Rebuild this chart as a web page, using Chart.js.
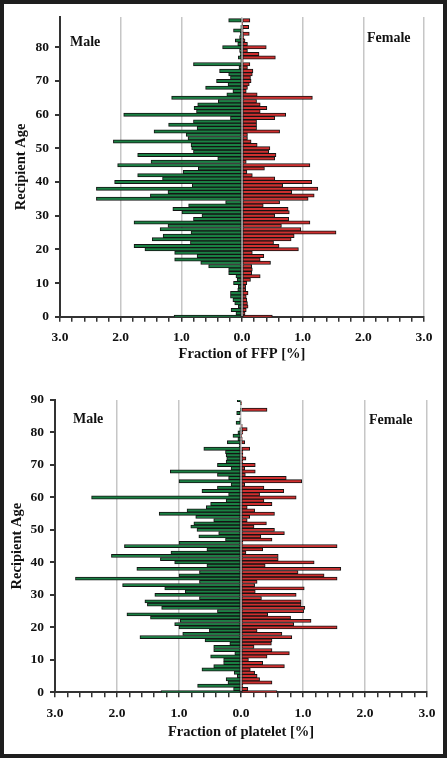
<!DOCTYPE html>
<html lang="en">
<head>
  <meta charset="UTF-8" />
  <title>Recipient age vs fraction of FFP / platelet</title>
  <script src="https://cdn.jsdelivr.net/npm/chart.js@4.4.0"></script>
  <style>
    * { box-sizing: border-box; margin: 0; padding: 0; }
    body {
      width: 447px;
      height: 758px;
      position: relative;
      overflow: hidden;
      background: #fff;
      font-family: 'Liberation Serif', 'DejaVu Serif', serif;
    }
    .frame {
      position: absolute;
      inset: 0;
      border: 4px solid #1e1e1e;
      pointer-events: none;
      z-index: 5;
    }
    .chart-box { position: absolute; left: 0; width: 447px; }
    #box1 { top: 0; height: 370px; }
    #box2 { top: 370px; height: 388px; }
    .sex {
      position: absolute;
      font-weight: bold;
      font-size: 14px;
      line-height: 16px;
      color: #111;
    }
  </style>
</head>
<body>
  <div class="chart-box" id="box1"><canvas id="ffpChart"></canvas></div>
  <div class="chart-box" id="box2"><canvas id="pltChart"></canvas></div>

  <div class="sex" style="left:70px; top:34px;">Male</div>
  <div class="sex" style="left:367px; top:30px;">Female</div>
  <div class="sex" style="left:73px; top:411px;">Male</div>
  <div class="sex" style="left:369px; top:412px;">Female</div>

  <div class="frame"></div>

  <script>
    // ages 0..89 (FFP) and 0..90 (platelet)
    const agesFFP = Array.from({ length: 90 }, (_, i) => i);
    const agesPLT = Array.from({ length: 91 }, (_, i) => i);

    // fraction of FFP [%], index = age
    const maleFFP = [
      1.12, 0.10, 0.18, 0.06, 0.12, 0.15, 0.19, 0.19, 0.07, 0.06,
      0.14, 0.08, 0.10, 0.22, 0.22, 0.55, 0.68, 1.11, 0.74, 1.11,
      1.60, 1.78, 0.85, 1.48, 1.30, 0.84, 1.35, 1.22, 1.78, 0.80,
      0.66, 0.99, 1.14, 0.88, 0.27, 2.40, 1.51, 1.22, 2.40, 0.82,
      2.10, 1.31, 1.72, 0.97, 0.72, 2.05, 1.50, 0.40, 1.72, 0.80,
      0.83, 0.84, 2.12, 0.89, 0.92, 1.45, 0.74, 1.21, 0.80, 0.19,
      1.95, 0.75, 0.79, 0.73, 0.39, 1.16, 0.25, 0.15, 0.60, 0.23,
      0.42, 0.19, 0.22, 0.37, 0.05, 0.80, 0.02, 0.06, 0.03, 0.04,
      0.32, 0.07, 0.11, 0.04, 0.03, 0.14, 0.02, 0.00, 0.22, 0.00
    ];
    const femaleFFP = [
      0.50, 0.05, 0.07, 0.10, 0.09, 0.08, 0.07, 0.10, 0.06, 0.06,
      0.08, 0.14, 0.30, 0.16, 0.17, 0.16, 0.47, 0.30, 0.36, 0.17,
      0.93, 0.61, 0.52, 0.81, 0.86, 1.55, 0.97, 0.65, 1.12, 0.77,
      0.54, 0.78, 0.76, 0.35, 0.62, 1.09, 1.19, 0.82, 1.25, 0.67,
      1.15, 0.54, 0.17, 0.08, 0.37, 1.12, 0.07, 0.54, 0.56, 0.44,
      0.46, 0.25, 0.15, 0.09, 0.09, 0.62, 0.24, 0.24, 0.24, 0.54,
      0.72, 0.30, 0.41, 0.30, 0.24, 1.16, 0.25, 0.07, 0.09, 0.12,
      0.15, 0.14, 0.17, 0.18, 0.09, 0.13, 0.02, 0.55, 0.28, 0.09,
      0.40, 0.09, 0.05, 0.03, 0.12, 0.02, 0.11, 0.01, 0.13, 0.00
    ];

    // fraction of platelet [%], index = age
    const malePLT = [
      1.29, 0.12, 0.70, 0.21, 0.24, 0.06, 0.11, 0.63, 0.44, 0.28,
      0.28, 0.49, 0.10, 0.44, 0.44, 0.18, 0.58, 1.63, 0.94, 0.51,
      1.00, 1.07, 0.98, 1.46, 1.84, 0.38, 1.28, 1.51, 1.55, 0.67,
      1.39, 0.90, 1.23, 1.91, 0.67, 2.67, 1.00, 0.67, 1.68, 0.55,
      1.07, 1.30, 2.09, 1.13, 0.55, 1.88, 1.00, 0.25, 0.68, 0.36,
      0.71, 0.81, 0.76, 0.44, 0.73, 1.32, 0.87, 0.56, 0.49, 0.24,
      2.41, 0.20, 0.63, 0.38, 0.16, 1.00, 0.20, 0.38, 1.14, 0.16,
      0.38, 0.24, 0.23, 0.24, 0.25, 0.60, 0.03, 0.22, 0.05, 0.13,
      0.05, 0.02, 0.00, 0.08, 0.02, 0.00, 0.07, 0.01, 0.00, 0.01,
      0.06
    ];
    const femalePLT = [
      0.58, 0.11, 0.03, 0.50, 0.30, 0.26, 0.22, 0.15, 0.70, 0.35,
      0.12, 0.42, 0.78, 0.50, 0.21, 0.49, 0.50, 0.82, 0.66, 0.26,
      1.55, 0.85, 1.13, 0.80, 0.43, 1.01, 1.03, 0.97, 0.97, 0.33,
      0.89, 0.23, 1.02, 0.22, 0.26, 1.55, 1.34, 0.92, 1.61, 0.39,
      1.18, 0.60, 0.60, 0.08, 0.35, 1.55, 0.03, 0.50, 0.32, 0.70,
      0.54, 0.21, 0.41, 0.10, 0.14, 0.54, 0.22, 0.10, 0.50, 0.37,
      0.89, 0.30, 0.69, 0.37, 0.06, 0.98, 0.73, 0.07, 0.23, 0.06,
      0.23, 0.03, 0.08, 0.03, 0.03, 0.14, 0.00, 0.06, 0.02, 0.01,
      0.03, 0.10, 0.02, 0.00, 0.00, 0.00, 0.00, 0.42, 0.00, 0.01,
      0.00
    ];

    Chart.defaults.font.family = "'Liberation Serif', 'DejaVu Serif', serif";
    Chart.defaults.font.weight = 'bold';
    Chart.defaults.color = '#111';

    const GREEN = '#1a8043';
    const RED = '#cf2f2f';
    const EDGE = '#141414';
    const isInt = v => Math.abs(v - Math.round(v)) < 1e-6;

    function buildPyramid(id, ages, male, female, xTitle, g) {
      return new Chart(document.getElementById(id), {
        type: 'bar',
        data: {
          labels: ages,
          datasets: [
            {
              label: 'Male',
              data: male.map(v => -v),
              backgroundColor: GREEN,
              borderColor: EDGE,
              borderWidth: 1,
              borderSkipped: false,
              categoryPercentage: 1,
              barPercentage: 1
            },
            {
              label: 'Female',
              data: female,
              backgroundColor: RED,
              borderColor: EDGE,
              borderWidth: 1,
              borderSkipped: false,
              categoryPercentage: 1,
              barPercentage: 1
            }
          ]
        },
        options: {
          indexAxis: 'y',
          responsive: true,
          maintainAspectRatio: false,
          animation: false,
          layout: { padding: { left: 0, right: g.right, top: g.top, bottom: 0 } },
          plugins: { legend: { display: false }, tooltip: { enabled: false } },
          scales: {
            x: {
              type: 'linear',
              stacked: true,
              min: -3,
              max: 3,
              afterFit: s => { s.height = g.xHeight; },
              border: { display: true, color: '#333', width: 2 },
              grid: {
                color: c => isInt(c.tick.value) ? '#c6c6c6' : 'rgba(0,0,0,0)',
                lineWidth: 1.5,
                tickColor: '#333',
                tickWidth: 1.5,
                tickLength: 5
              },
              ticks: {
                stepSize: 0.2,
                autoSkip: false,
                maxRotation: 0,
                padding: 8,
                font: { size: 13.5, weight: 'bold' },
                callback: v => isInt(v) ? Math.abs(v).toFixed(1) : ''
              },
              title: {
                display: true,
                text: xTitle,
                font: { size: 14.5, weight: 'bold' },
                padding: { top: 0, bottom: g.xTitlePad }
              }
            },
            y: {
              type: 'category',
              stacked: true,
              reverse: true,
              offset: false,
              afterFit: s => { s.width = g.yWidth; },
              border: { display: true, color: '#333', width: 2 },
              grid: {
                offset: false,
                drawOnChartArea: false,
                color: c => ages[c.index] % 10 === 0 ? '#333' : 'rgba(0,0,0,0)',
                lineWidth: 2,
                tickLength: 5
              },
              ticks: {
                autoSkip: false,
                padding: 6,
                font: { size: 13.5, weight: 'bold' },
                callback: (v, i) => ages[i] % 10 === 0 ? String(ages[i]) : ''
              },
              title: {
                display: true,
                text: 'Recipient Age',
                font: { size: 14.5, weight: 'bold' },
                padding: { top: g.yTitlePad, bottom: 0 }
              }
            }
          }
        }
      });
    }

    buildPyramid('ffpChart', agesFFP, maleFFP, femaleFFP, 'Fraction of FFP [%]',
      { right: 23, top: 17, xHeight: 53.3, yWidth: 60, xTitlePad: 7.3, yTitlePad: 12.3 });
    buildPyramid('pltChart', agesPLT, malePLT, femalePLT, 'Fraction of platelet [%]',
      { right: 20, top: 30, xHeight: 65.7, yWidth: 55, xTitlePad: 17.3, yTitlePad: 8.3 });
  </script>
</body>
</html>
